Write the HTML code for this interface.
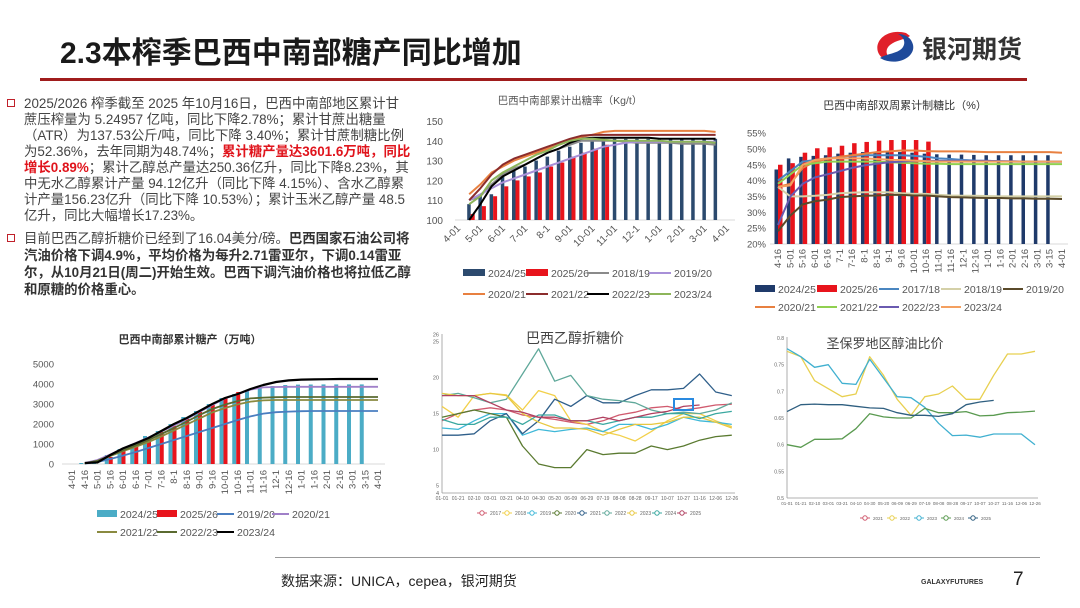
<!DOCTYPE html>
<html><head><meta charset="utf-8">
<style>
body{margin:0;width:1080px;height:608px;overflow:hidden;background:#fff;position:relative;font-family:"Liberation Sans","Noto Sans CJK SC",sans-serif;}
.abs{position:absolute;}
#title{left:60px;top:28px;font-size:30px;font-weight:bold;color:#1a1a1a;white-space:nowrap;}
.ln{position:absolute;left:24px;font-size:13.4px;color:#444;white-space:nowrap;line-height:16px;}
.red{color:#e0141c;font-weight:bold;}
.b{font-weight:bold;color:#333;}
.bul{position:absolute;left:7px;width:6px;height:6px;border:1.5px solid #c0202a;}
svg{position:absolute;left:0;top:0;}
</style></head><body>
<div id="title" class="abs">2.3本榨季巴西中南部糖产同比增加</div>
<div class="abs" style="left:40px;top:78px;width:987px;height:3px;background:#a01c1c"></div>
<div class="abs" style="left:922px;top:30px;font-size:25px;font-weight:bold;color:#333;">银河期货</div>
<div>
<div class="bul" style="top:99px"></div>
<div class="ln" style="top:96px">2025/2026 榨季截至 2025 年10月16日，巴西中南部地区累计甘</div>
<div class="ln" style="top:112px">蔗压榨量为 5.24957 亿吨，同比下降2.78%；累计甘蔗出糖量</div>
<div class="ln" style="top:128px">（ATR）为137.53公斤/吨，同比下降 3.40%；累计甘蔗制糖比例</div>
<div class="ln" style="top:144px">为52.36%，去年同期为48.74%；<span class="red">累计糖产量达3601.6万吨，同比</span></div>
<div class="ln" style="top:160px"><span class="red">增长0.89%</span>；累计乙醇总产量达250.36亿升，同比下降8.23%，其</div>
<div class="ln" style="top:176px">中无水乙醇累计产量 94.12亿升（同比下降 4.15%）、含水乙醇累</div>
<div class="ln" style="top:192px">计产量156.23亿升（同比下降 10.53%）；累计玉米乙醇产量 48.5</div>
<div class="ln" style="top:208px">亿升，同比大幅增长17.23%。</div>
<div class="bul" style="top:234px"></div>
<div class="ln" style="top:231px">目前巴西乙醇折糖价已经到了16.04美分/磅。<span class="b">巴西国家石油公司将</span></div>
<div class="ln b" style="top:248px">汽油价格下调4.9%，平均价格为每升2.71雷亚尔，下调0.14雷亚</div>
<div class="ln b" style="top:265px">尔，从10月21日(周二)开始生效。巴西下调汽油价格也将拉低乙醇</div>
<div class="ln b" style="top:282px">和原糖的价格重心。</div>
</div>
<div class="abs" style="left:275px;top:557px;width:765px;height:1px;background:#999"></div>
<div class="abs" style="left:281px;top:571px;font-size:14px;color:#222;">数据来源：UNICA，cepea，银河期货</div>
<div class="abs" style="left:921px;top:579px;font-size:7px;font-weight:bold;color:#333;">GALAXYFUTURES</div>
<div class="abs" style="left:1013px;top:569px;font-size:19px;color:#222;">7</div>
<svg id="svg" width="1080" height="608">
<g>
<path d="M906,33 C888,28 874,40 878,52 C880,58 888,62 895,60 C886,58 884,50 890,45 C896,40 904,40 910,36 Z" fill="#e0202a"/>
<path d="M884,60 C902,66 918,54 912,42 C910,37 904,34 898,34 C906,38 906,46 900,50 C894,54 886,54 880,58 Z" fill="#1f4a9a"/>
</g>
</svg>
<script>
// ---------- Chart 1 data: 出糖率 ----------
const c1Ticks=["4-01","5-01","6-01","7-01","8-1","9-01","10-01","11-01","12-1","1-01","2-01","3-01","4-01"];
const c1YTicks=[100,110,120,130,140,150];
const c1Bar2425=[108,113,113,122,125,127,130,132,135,137,139,140,141,141,141,141,141,141,141,141,141,141,141];
const c1Bar2526=[103,107,112,117,120,122,124,127,129,132,134,136,138];
const c1L1819=[110,112,118,123,126,128,131,134,136,138,140,140,140,140,139.5,139,139,139,139,138.5,138.5,138.5,138];
const c1L1920=[110,113,116,119,121,123,125,127,129,131,133,135,137,138,139,139.5,139.5,139.5,139.5,139.5,139.5,139.5,139.5];
const c1L2021=[113,118,124,127,130,132,134,136,138,140,142,143,144.5,145,145,145,145,145,145,145,145,145,144.5];
const c1L2122=[110,116,123,128,131,133,135,137,139,141,142.5,143,143,143,143,143,143,143,143,143,143,143,143];
const c1L2223=[100,108,117,122,125,128,131,134,136,139,141,141.5,141.5,141.5,141.5,141.5,141.5,141,141,141,141,141,141];
const c1L2324=[108,112,120,124,127,130,133,135,138,140,141,141,140.5,140,140,140,140,140,139.5,139.5,139.5,139.5,139];
// ---------- Chart 2 data: 制糖比 ----------
const c2Ticks=["4-16","5-01","5-16","6-01","6-16","7-1","7-16","8-1","8-16","9-1","9-16","10-01","10-16","11-01","11-16","12-1","12-16","1-01","1-16","2-01","2-16","3-01","3-15","4-01"];
const c2YTicks=[20,25,30,35,40,45,50,55];
const c2Bar2425=[43.5,47,47.5,47.8,48,48.5,48.8,49,49,49,49,48.8,48.5,48.3,48.2,48.2,48.1,48,48,48,48,48,48];
const c2Bar2526=[45,45.5,48.8,50.2,50.5,51,51.8,52.2,52.6,52.8,52.8,52.8,52.3];
const c2L1718=[40,43,46,46.5,47,47.5,47.8,48,48,48,48,47.8,47.5,47,46.8,46.5,46.3,46.2,46.1,46,46,46,46,46];
const c2L1819=[38,35,35,35.2,35.5,36,36.2,36.3,36.3,36.3,36,35.8,35.8,35.5,35.3,35.2,35.2,35.1,35,35,35,35,35,35];
const c2L1920=[24,29,32.5,33.5,34,34.8,35,35.2,35.3,35.5,35.5,35.3,35.3,35,34.8,34.7,34.6,34.5,34.5,34.4,34.4,34.3,34.3,34.2];
const c2L2021=[38,39,44,46,46.8,47.5,48,48.5,49,49.2,49.5,49.5,49.3,49.2,49.2,49.2,49.1,49,49,49,49,49,49,48.8];
const c2L2122=[39,42,45,45.5,46,46,46,46,46,45.8,45.6,45.5,45.3,45.3,45.2,45.2,45.2,45.2,45.2,45.2,45.2,45.2,45.2,45.2];
const c2L2223=[26,35,39,41,42,43,44,44.8,45.3,45.8,46,46.2,46.2,46.2,46.2,46.2,46.2,46.2,46.1,46.1,46,46,46,46];
const c2L2324=[38,38.5,45,46.5,47,47,47,47,46.8,46.6,46.5,46.3,46.1,46,46,46,46,46,46,46,46,46,46,46];
// ---------- Chart 3 data: 累计糖产 ----------
const c3Ticks=["4-01","4-16","5-01","5-16","6-01","6-16","7-01","7-16","8-1","8-16","9-01","9-16","10-01","10-16","11-01","11-16","12-1","12-16","1-01","1-16","2-01","2-16","3-01","3-15","4-01"];
const c3YTicks=[0,1000,2000,3000,4000,5000];
const c3Bar2425=[50,150,450,750,1000,1400,1650,2000,2350,2650,3000,3300,3500,3650,3800,3900,3950,3970,3975,3980,3980,3980,3980];
const c3Bar2526=[350,700,950,1250,1600,1900,2250,2600,2950,3300,3600];
const c3L1920=[null,20,100,250,420,600,800,1000,1200,1400,1600,1800,2000,2200,2380,2520,2590,2620,2640,2650,2650,2650,2650,2650,2650];
const c3L2021=[null,50,200,480,780,1050,1330,1620,1920,2250,2600,2950,3280,3500,3720,3830,3850,3860,3860,3860,3860,3860,3860,3860,3860];
const c3L2122=[null,30,150,400,640,860,1100,1380,1680,1980,2280,2580,2800,2980,3120,3180,3200,3200,3200,3200,3200,3200,3200,3200,3200];
const c3L2223=[null,30,160,420,680,930,1200,1500,1800,2120,2450,2750,2970,3150,3280,3320,3340,3350,3350,3350,3350,3350,3350,3350,3350];
const c3L2324=[null,50,80,450,780,1030,1300,1650,2000,2300,2650,3000,3300,3500,3750,3950,4100,4180,4220,4230,4240,4250,4250,4250,4250];
// ---------- Chart 4 data: 乙醇折糖价 ----------
const c4Ticks=["01-01","01-21","02-10","03-01","03-21","04-10","04-30","05-20","06-09","06-29","07-19","08-08","08-28","09-17","10-07","10-27","11-16","12-06","12-26"];
const c4YTicks=[4,5,10,15,20,25,26];
const c4S2017=[14,15,15.5,15.8,15.5,14.8,14.5,14.2,13.8,13.5,14,14.8,15.2,15.8,16,15.5,15.8,16.2,16.3];
const c4S2018=[16,14.5,17.5,17.8,17.6,15.5,18.2,17.5,14,13.5,12.5,12,11.2,12.5,14,15,15,14,13.2];
const c4S2019=[13,12.8,14,15,15,12,12.8,12.5,12.8,13,12.5,13.5,13.5,12.8,13.5,14.5,14,13.8,13.5];
const c4S2020=[14.5,15,15.5,15,14.5,10.5,8,7.5,7.5,10,9.3,9.5,9.5,10.5,10,10.5,11.3,11.8,12];
const c4S2021=[12,12,12.2,14,15,12.2,14,17,16,17.5,16.5,16.5,17.5,18.3,18.3,18.5,20.5,18,17.5];
const c4S2022=[17.5,17.8,17.2,16.5,17,20.5,24,19.5,20.3,17.5,17,16.8,16.5,15.5,15,15.2,15,15.5,16.5];
const c4S2023=[17.8,17.5,17.5,17.8,17.5,15,13.8,13,13,12.8,12,12.8,13.5,13.5,13.8,14.5,14.5,13.8,13];
const c4S2024=[14.2,13.5,13.5,14.5,14.5,13.5,14.8,14.8,14,14,13.5,14,14.5,14.5,15,15,14.3,15,15.3];
const c4S2025=[17.5,17.5,17.5,16.5,15.5,15.2,14.5,14.5,14,14,14.5,14,14.5,15,15.3,16,16.2];
// ---------- Chart 5 data: 醇油比价 ----------
const c5Ticks=c4Ticks;
const c5YTicks=[0.5,0.55,0.6,0.65,0.7,0.75,0.8];
const c5S2022=[0.775,0.765,0.72,0.705,0.69,0.695,0.765,0.73,0.685,0.655,0.69,0.695,0.71,0.685,0.685,0.73,0.77,0.77,0.775];
const c5S2023=[0.78,0.765,0.745,0.75,0.715,0.713,0.76,0.725,0.69,0.688,0.67,0.64,0.617,0.618,0.614,0.62,0.62,0.62,0.60];
const c5S2024=[0.60,0.595,0.61,0.61,0.611,0.63,0.658,0.652,0.65,0.65,0.668,0.66,0.66,0.662,0.654,0.655,0.66,0.661,0.663];
const c5S2025=[0.662,0.675,0.676,0.675,0.675,0.672,0.669,0.668,0.66,0.655,0.655,0.653,0.658,0.675,0.68,0.683];

const NS='http://www.w3.org/2000/svg';
const svg=document.getElementById('svg');
function E(tag,a,p){const e=document.createElementNS(NS,tag);for(const k in a)e.setAttribute(k,a[k]);(p||svg).appendChild(e);return e;}
function T(x,y,s,a,p){const e=E('text',Object.assign({x:x,y:y},a),p);e.textContent=s;return e;}
function P(vals,xf,yf,off){let d='',pen=false;vals.forEach((v,i)=>{if(v==null){pen=false;return;}d+=(pen?'L':'M')+xf(i+off).toFixed(1)+','+yf(v).toFixed(1);pen=true;});return d;}
const F='"Liberation Sans","Noto Sans CJK SC",sans-serif';
function group(name){const g=E('g',{});


return g;}
function line(g,vals,xf,yf,off,color,w,name){const e=E('path',{d:P(vals,xf,yf,off),fill:'none',stroke:color,'stroke-width':w,'stroke-linejoin':'round'},g);


return e;}
function bars(g,vals,xf,yf,off,x0,x1,base,color,name){vals.forEach((v,i)=>{const x=xf(i+off);const r=E('rect',{x:x+x0,y:yf(v),width:x1-x0,height:base-yf(v),fill:color},g);


});}
function legend(g,x,y,label,color,isBar,w){let s;if(isBar)s=E('rect',{x:x,y:y-4,width:w,height:7,fill:color},g);else s=E('line',{x1:x,y1:y,x2:x+w,y2:y,stroke:color,'stroke-width':2},g);


const t=T(x+w+3,y+4,label,{'font-size':10.5,fill:'#555','font-family':F},g);


}
function dotLegend(g,x,y,label,color,fs){const l=E('line',{x1:x,y1:y,x2:x+10,y2:y,stroke:color,'stroke-width':1},g);


const c=E('circle',{cx:x+5,cy:y,r:2.2,fill:'#fff',stroke:color,'stroke-width':1},g);


const t=T(x+13,y+2,label,{'font-size':fs,fill:'#666','font-family':F},g);


}

// ===== Chart 1 =====
(function(){
const g=group('sugar-yield-chart');
const x=k=>458+k*11.2, y=v=>220-(v-100)*1.98;
const t=T(570,104,'巴西中南部累计出糖率（Kg/t）',{'font-size':10.5,fill:'#555','text-anchor':'middle','font-family':F},g);


c1YTicks.forEach(v=>{const e=T(443,y(v)+4,String(v),{'font-size':10,fill:'#555','text-anchor':'end','font-family':F},g);

});
const ax=E('line',{x1:455,y1:220,x2:735,y2:220,stroke:'#d8d8d8'},g);


c1Ticks.forEach((s,i)=>{const xx=x(i*2);const e=T(xx+3,229,s,{'font-size':10,fill:'#555','text-anchor':'end','font-family':F,transform:'rotate(-45 '+(xx+3)+' 229)'},g);

});
bars(g,c1Bar2425,x,y,1,-2,1.5,220,'#2c4a6e','bar-2024-25');
bars(g,c1Bar2526,x,y,1,1.5,5.5,220,'#e8141c','bar-2025-26');
line(g,c1L1819,x,y,1,'#8a8a8a',2,'line-2018-19');
line(g,c1L1920,x,y,1,'#a890d8',2,'line-2019-20');
line(g,c1L2021,x,y,1,'#e88040',2,'line-2020-21');
line(g,c1L2122,x,y,1,'#8b2c2c',2,'line-2021-22');
line(g,c1L2223,x,y,1,'#000',2,'line-2022-23');
line(g,c1L2324,x,y,1,'#8db55a',2,'line-2023-24');
legend(g,463,273,'2024/25','#2c4a6e',true,22);
legend(g,526,273,'2025/26','#e8141c',true,22);
legend(g,587,273,'2018/19','#8a8a8a',false,22);
legend(g,649,273,'2019/20','#a890d8',false,22);
legend(g,463,294,'2020/21','#e88040',false,22);
legend(g,526,294,'2021/22','#8b2c2c',false,22);
legend(g,587,294,'2022/23','#000',false,22);
legend(g,649,294,'2023/24','#8db55a',false,22);
})();

// ===== Chart 2 =====
(function(){
const g=group('sugar-mix-chart');
const x=k=>778+k*12.35, y=v=>244-(v-20)*3.17;
const t=T(905,109,'巴西中南部双周累计制糖比（%）',{'font-size':11,fill:'#333','text-anchor':'middle','font-family':F},g);


c2YTicks.forEach(v=>{const e=T(766,y(v)+3.5,v+'%',{'font-size':9.5,fill:'#555','text-anchor':'end','font-family':F},g);

});
const ax=E('line',{x1:770,y1:244,x2:1068,y2:244,stroke:'#d8d8d8'},g);


c2Ticks.forEach((s,i)=>{const xx=x(i)+3;const e=T(xx,249,s,{'font-size':9.5,fill:'#555','text-anchor':'end','font-family':F,transform:'rotate(-90 '+xx+' 249)'},g);

});
bars(g,c2Bar2425,x,y,0,-3.5,0,244,'#1f3a6a','bar-2024-25');
bars(g,c2Bar2526,x,y,0,0,4.5,244,'#e8141c','bar-2025-26');
line(g,c2L1718,x,y,0,'#4a86c0',2,'line-2017-18');
line(g,c2L1819,x,y,0,'#d4d0a8',2,'line-2018-19');
line(g,c2L1920,x,y,0,'#5a4a2a',2,'line-2019-20');
line(g,c2L2021,x,y,0,'#e88040',2,'line-2020-21');
line(g,c2L2122,x,y,0,'#90d050',2,'line-2021-22');
line(g,c2L2223,x,y,0,'#6a5ab0',2,'line-2022-23');
line(g,c2L2324,x,y,0,'#f4a060',2,'line-2023-24');
legend(g,755,289,'2024/25','#1f3a6a',true,20);
legend(g,817,289,'2025/26','#e8141c',true,20);
legend(g,879,289,'2017/18','#4a86c0',false,20);
legend(g,941,289,'2018/19','#d4d0a8',false,20);
legend(g,1003,289,'2019/20','#5a4a2a',false,20);
legend(g,755,307,'2020/21','#e88040',false,20);
legend(g,817,307,'2021/22','#90d050',false,20);
legend(g,879,307,'2022/23','#6a5ab0',false,20);
legend(g,941,307,'2023/24','#f4a060',false,20);
})();

// ===== Chart 3 =====
(function(){
const g=group('cumulative-sugar-chart');
const x=k=>72+k*12.75, y=v=>464-v*0.02;
const t=T(190,343,'巴西中南部累计糖产（万吨）',{'font-size':11,fill:'#333','font-weight':'bold','text-anchor':'middle','font-family':F},g);


c3YTicks.forEach(v=>{const e=T(54,y(v)+3.5,String(v),{'font-size':9.5,fill:'#555','text-anchor':'end','font-family':F},g);

});
const ax=E('line',{x1:62,y1:464,x2:385,y2:464,stroke:'#d8d8d8'},g);


c3Ticks.forEach((s,i)=>{const xx=x(i)+3;const e=T(xx,470,s,{'font-size':9.5,fill:'#555','text-anchor':'end','font-family':F,transform:'rotate(-90 '+xx+' 470)'},g);

});
bars(g,c3Bar2425,x,y,1,-5.5,-1.5,464,'#4bacc6','bar-2024-25');
bars(g,c3Bar2526,x,y,3,-1.5,2.5,464,'#e8141c','bar-2025-26');
line(g,c3L1920,x,y,0,'#4a7ec0',1.8,'line-2019-20');
line(g,c3L2021,x,y,0,'#a080c8',1.8,'line-2020-21');
line(g,c3L2122,x,y,0,'#8a8a40',1.8,'line-2021-22');
line(g,c3L2223,x,y,0,'#5a6a30',1.8,'line-2022-23');
line(g,c3L2324,x,y,0,'#000',2.2,'line-2023-24');
legend(g,97,514,'2024/25','#4bacc6',true,20);
legend(g,157,514,'2025/26','#e8141c',true,20);
legend(g,217,514,'2019/20','#4a7ec0',false,17);
legend(g,272,514,'2020/21','#a080c8',false,17);
legend(g,97,532,'2021/22','#8a8a40',false,20);
legend(g,157,532,'2022/23','#5a6a30',false,20);
legend(g,217,532,'2023/24','#000',false,17);
})();

// ===== Chart 4 =====
(function(){
const g=group('ethanol-parity-chart');
const x=i=>442+i*16.1, y=v=>341.6-(v-25)*7.2;
const t=T(575,343,'巴西乙醇折糖价',{'font-size':14,fill:'#444','text-anchor':'middle','font-family':F},g);


const a1=E('line',{x1:442,y1:334,x2:442,y2:493,stroke:'#999','stroke-width':0.8},g);


const a2=E('line',{x1:442,y1:493,x2:735,y2:493,stroke:'#999','stroke-width':0.8},g);


c4YTicks.forEach(v=>{const e=T(439,y(v)+2,String(v),{'font-size':5.5,fill:'#666','text-anchor':'end','font-family':F},g);

});
c4Ticks.forEach((s,i)=>{const e=T(x(i),500,s,{'font-size':5,fill:'#666','text-anchor':'middle','font-family':F},g);

});
const S=[[c4S2017,'#d05a6e','2017'],[c4S2018,'#f2d04a','2018'],[c4S2019,'#3fb8d8','2019'],[c4S2020,'#5a7a30','2020'],[c4S2021,'#2f5f8a','2021'],[c4S2022,'#5fa89a','2022'],[c4S2023,'#e8c840','2023'],[c4S2024,'#3aa8a0','2024'],[c4S2025,'#b04060','2025']];
S.forEach((s,k)=>{line(g,s[0],x,y,0,s[1],1.3,'line-'+s[2]);dotLegend(g,477+k*25,513,s[2],s[1],5);});
const hl=E('rect',{x:674,y:399,width:19,height:11,fill:'none',stroke:'#2a8ae0','stroke-width':2},g);


})();

// ===== Chart 5 =====
(function(){
const g=group('ethanol-gasoline-ratio-chart');
const x=i=>787+i*13.78, y=v=>338+(0.8-v)*533.3;
const t=T(885,348,'圣保罗地区醇油比价',{'font-size':13,fill:'#444','text-anchor':'middle','font-family':F},g);


const a1=E('line',{x1:787,y1:337,x2:787,y2:498,stroke:'#999','stroke-width':0.8},g);


const a2=E('line',{x1:787,y1:498,x2:1038,y2:498,stroke:'#999','stroke-width':0.8},g);


c5YTicks.forEach(v=>{const e=T(784,y(v)+2,String(v),{'font-size':5,fill:'#666','text-anchor':'end','font-family':F},g);

});
c5Ticks.forEach((s,i)=>{const e=T(x(i),505,s,{'font-size':4.5,fill:'#666','text-anchor':'middle','font-family':F},g);

});
const S=[[c5S2022,'#e8d050','2022'],[c5S2023,'#40b0d0','2023'],[c5S2024,'#5a9a50','2024'],[c5S2025,'#2f5f80','2025']];
dotLegend(g,860,518,'2021','#d05a6e',4.5);
S.forEach((s,k)=>{line(g,s[0],x,y,0,s[1],1.3,'line-'+s[2]);dotLegend(g,887+k*27,518,s[2],s[1],4.5);});
})();
</script>
</body></html>
